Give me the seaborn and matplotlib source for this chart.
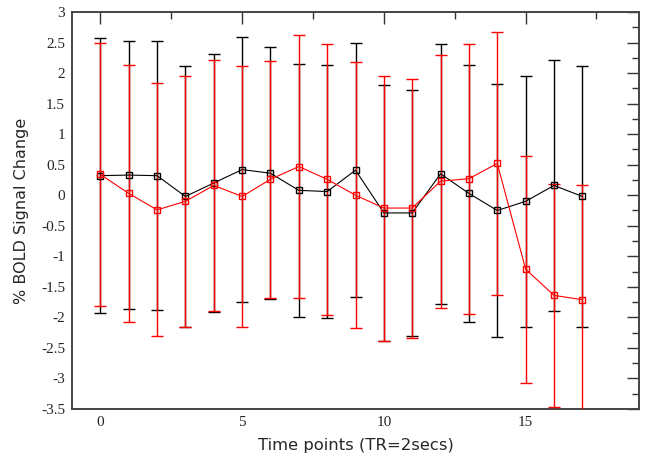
"""
plot.py
BOLD signal change over time points, two conditions with error bars.
"""

import matplotlib
matplotlib.use("Agg")
import matplotlib.pyplot as plt
from matplotlib.ticker import MultipleLocator
import seaborn as sns
import pandas as pd

time_points = list(range(18))

black_mean = [0.32, 0.33, 0.32, -0.02, 0.20, 0.42, 0.36, 0.08, 0.06, 0.41,
              -0.29, -0.29, 0.35, 0.03, -0.25, -0.10, 0.16, -0.02]
black_err = [2.25, 2.20, 2.20, 2.14, 2.12, 2.17, 2.06, 2.07, 2.07, 2.08,
             2.09, 2.02, 2.13, 2.10, 2.07, 2.06, 2.06, 2.13]

red_mean = [0.34, 0.03, -0.24, -0.10, 0.16, -0.02, 0.26, 0.47, 0.26, 0.00,
            -0.21, -0.21, 0.23, 0.27, 0.52, -1.21, -1.64, -1.71]
red_err = [2.15, 2.10, 2.07, 2.06, 2.06, 2.14, 1.94, 2.15, 2.22, 2.18,
           2.17, 2.12, 2.07, 2.21, 2.16, 1.86, 1.83, 1.87]

df = pd.DataFrame({
    "t": time_points * 2,
    "val": black_mean + red_mean,
    "series": ["black"] * 18 + ["red"] * 18,
})

sns.set_style("white")
fig = plt.figure(figsize=(6.51, 4.61), dpi=100)
ax = fig.add_axes([0.1106, 0.1128, 0.8710, 0.8612])

ax.errorbar(time_points, black_mean, yerr=black_err, fmt="none", ecolor="black",
            elinewidth=1.0, capsize=4.3, capthick=1.0, zorder=2)
ax.errorbar(time_points, red_mean, yerr=red_err, fmt="none", ecolor="red",
            elinewidth=1.0, capsize=4.3, capthick=1.0, zorder=3)

n_before = len(ax.lines)
sns.lineplot(data=df, x="t", y="val", hue="series",
             palette={"black": "black", "red": "red"},
             marker="s", markersize=4.5, linewidth=0.8, legend=False, ax=ax)
for line in ax.lines[n_before:]:
    c = line.get_color()
    line.set_markeredgecolor(c)
    line.set_markerfacecolor("none")
    line.set_markeredgewidth(1.0)
    line.set_zorder(4)

ax.set_xlim(-1, 19)
ax.set_ylim(-3.5, 3)
ax.xaxis.set_major_locator(MultipleLocator(5))
ax.xaxis.set_minor_locator(MultipleLocator(2.5))
ax.yaxis.set_major_locator(MultipleLocator(0.5))
ax.yaxis.set_minor_locator(MultipleLocator(0.25))
ax.tick_params(which="both", direction="in", top=True, right=True,
               color="#333333", width=1.0)
ax.tick_params(which="major", length=8.5, labelsize=11, pad=5)
ax.tick_params(which="minor", length=5)
ax.set_yticks(ax.get_yticks())
ax.set_yticklabels([f"{v:g}" for v in ax.get_yticks()])
ax.set_ylim(-3.5, 3)
for lab in ax.get_xticklabels() + ax.get_yticklabels():
    lab.set_fontfamily("Liberation Serif")

for sp in ax.spines.values():
    sp.set_color("#444444")
    sp.set_linewidth(1.4)

ax.set_xlabel("Time points (TR=2secs)", fontsize=11.8, fontfamily="DejaVu Sans", labelpad=6.5)
ax.set_ylabel("% BOLD Signal Change", fontsize=11.5, fontfamily="DejaVu Sans", labelpad=8.5)

fig.savefig("out.png", dpi=100)
plt.close(fig)
